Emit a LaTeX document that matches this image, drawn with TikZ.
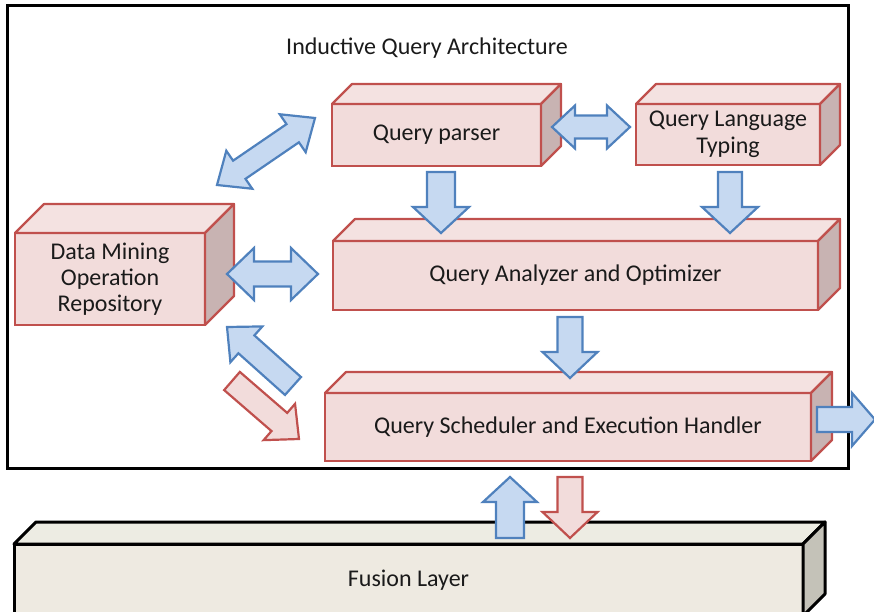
\documentclass[tikz,border=0pt]{standalone}
\usepackage{fontspec}
\setmainfont{Carlito}
\usetikzlibrary{calc}

\definecolor{pinkface}{HTML}{F2DCDB}
\definecolor{pinktop}{HTML}{F4E2E1}
\definecolor{pinkside}{HTML}{C8B3B2}
\definecolor{pinkline}{HTML}{C0504D}
\definecolor{tanface}{HTML}{EEEAE1}
\definecolor{tantop}{HTML}{EDECE3}
\definecolor{tanside}{HTML}{C4C2B8}
\definecolor{bluefill}{HTML}{C6D9F1}
\definecolor{blueline}{HTML}{4F81BD}
\definecolor{inktext}{HTML}{1A1A1A}

\tikzset{
  every node/.style={font=\fontsize{24}{26}\selectfont, text=inktext},
  pinkbox/.style={draw=pinkline, line width=2.2pt},
  tanbox/.style={draw=black, line width=3pt},
  bluearrow/.style={fill=bluefill, draw=blueline, line width=2.2pt},
  redarrow/.style={fill=pinkface, draw=pinkline, line width=2.2pt},
}

% 3D box: colour set, name, front x1, y1, x2, y2, depth, label
\newcommand\cuboid[8]{%
  \node[#1box, fill=#1face, outer sep=0pt, inner sep=2pt, align=center,
        minimum width={(#5-#3)*1pt}, minimum height={(#6-#4)*1pt}]
        (#2) at ({(#3+#5)/2},{(#4+#6)/2}) {#8};
  \draw[#1box, fill=#1top, line join=round]
    (#2.north west) -- ++(#7,-#7) -- ($(#2.north east)+(#7,-#7)$)
    -- (#2.north east) -- cycle;
  \draw[#1box, fill=#1side, line join=round]
    (#2.north east) -- ++(#7,-#7) -- ($(#2.south east)+(#7,-#7)$)
    -- (#2.south east) -- cycle;
}

% block arrow: style, tail, tip, half body width, half head width, head length
\newcommand\blockarrow[6]{%
  \coordinate (ah) at ($(#3)!#6!(#2)$);
  \draw[#1] ($(#2)!#4!90:(#3)$) -- ($(ah)!#4!90:(#3)$) -- ($(ah)!#5!90:(#3)$)
    -- (#3) -- ($(ah)!#5!-90:(#3)$) -- ($(ah)!#4!-90:(#3)$)
    -- ($(#2)!#4!-90:(#3)$) -- cycle;
}

% double block arrow: style, end A, end B, half body width, half head width, head length
\newcommand\dblarrow[6]{%
  \coordinate (ha) at ($(#2)!#6!(#3)$);
  \coordinate (hb) at ($(#3)!#6!(#2)$);
  \draw[#1] (#2) -- ($(ha)!#5!90:(#3)$) -- ($(ha)!#4!90:(#3)$)
    -- ($(hb)!#4!90:(#3)$) -- ($(hb)!#5!90:(#3)$) -- (#3)
    -- ($(hb)!#5!-90:(#3)$) -- ($(hb)!#4!-90:(#3)$)
    -- ($(ha)!#4!-90:(#3)$) -- ($(ha)!#5!-90:(#3)$) -- cycle;
}

\begin{document}
\begin{tikzpicture}[x=1pt, y=-1pt]
\useasboundingbox (0,0) rectangle (874,612);

% outer frame of the architecture
\node[draw=black, line width=3pt, outer sep=0pt,
      minimum width=841pt, minimum height=462pt] (frame) at (427.5,237) {};
\node (title) at (427,48) {Inductive Query Architecture};

% components
\cuboid{pink}{parser}{332}{104}{541}{166}{20}{Query parser}
\cuboid{pink}{typing}{636}{104}{820}{165}{20}{Query Language\\[1pt]Typing}
\cuboid{pink}{repo}{15}{233}{205}{325}{29}{Data Mining\\Operation\\Repository}
\cuboid{pink}{analyzer}{333}{241}{818}{310}{22}{Query Analyzer and Optimizer}
\cuboid{pink}{scheduler}{325}{393}{811}{461}{21}{Query Scheduler and Execution Handler}
\cuboid{tan}{fusion}{14}{544}{803}{616}{22}{\raisebox{2pt}{Fusion Layer}}

% arrow end points
\coordinate (pq1) at (217,185);  \coordinate (pq2) at (315,118);
\coordinate (pl1) at (552,127);  \coordinate (pl2) at (630,127);
\coordinate (pa1) at (441,172);  \coordinate (pa2) at (441,233);
\coordinate (la1) at (730,172);  \coordinate (la2) at (730,233);
\coordinate (da1) at (227,274);  \coordinate (da2) at (318,274);
\coordinate (as1) at (570,317);  \coordinate (as2) at (570,378);
\coordinate (sr1) at (293,386);  \coordinate (sr2) at (227,327);
\coordinate (rs1) at (232,381);  \coordinate (rs2) at (299,439);
\coordinate (so1) at (817,419.5); \coordinate (so2) at (875,419.5);
\coordinate (fs1) at (510,538);  \coordinate (fs2) at (510,477);
\coordinate (sf1) at (570,477);  \coordinate (sf2) at (570,538);

% connectors
\dblarrow{bluearrow}{pq1}{pq2}{11pt}{23pt}{27pt}
\dblarrow{bluearrow}{pl1}{pl2}{11.5pt}{21.5pt}{23pt}
\dblarrow{bluearrow}{da1}{da2}{12.5pt}{26pt}{27pt}
\blockarrow{bluearrow}{pa1}{pa2}{14pt}{28pt}{26pt}
\blockarrow{bluearrow}{la1}{la2}{12pt}{28pt}{26pt}
\blockarrow{bluearrow}{as1}{as2}{12.5pt}{27.5pt}{26pt}
\blockarrow{bluearrow}{sr1}{sr2}{12pt}{24pt}{26pt}
\blockarrow{redarrow}{rs1}{rs2}{12pt}{24pt}{26pt}
\blockarrow{bluearrow}{so1}{so2}{12.5pt}{26.5pt}{23pt}
\blockarrow{bluearrow}{fs1}{fs2}{14pt}{27pt}{25pt}
\blockarrow{redarrow}{sf1}{sf2}{12.5pt}{27.5pt}{26pt}
\end{tikzpicture}
\end{document}
